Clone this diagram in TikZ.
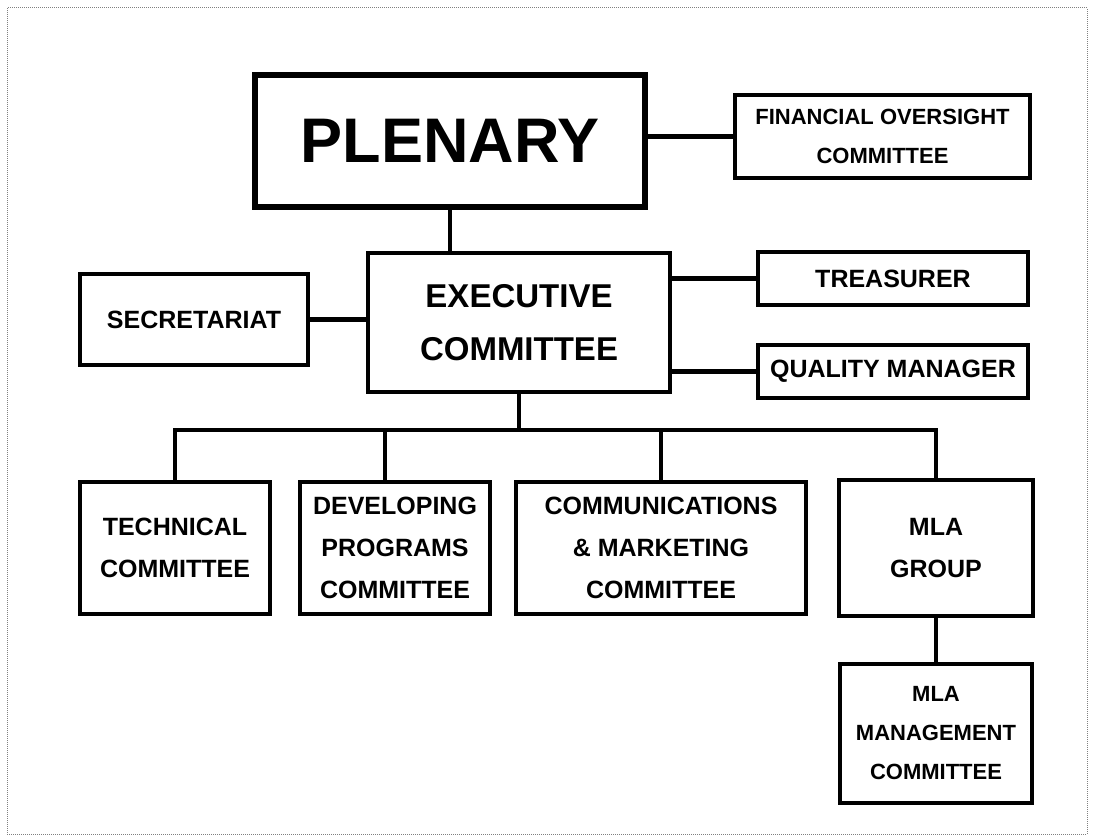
\documentclass[tikz,border=0pt]{standalone}
\usepackage{fontspec}
\setmainfont{Liberation Sans}
\usetikzlibrary{positioning}

\begin{document}
\begin{tikzpicture}[
		x=1pt, y=-1pt,
		line/.style={line width=4.5pt},
		box/.style={draw, line width=4.5pt, outer sep=0pt, align=center, font=\bfseries\fontsize{25}{42}\selectfont},
		smallbox/.style={box, font=\bfseries\fontsize{22}{39}\selectfont},
	]
	\useasboundingbox (0,0) rectangle (1093,840);
	\draw[gray, densely dotted, line width=1pt] (7,8) rectangle (1087,834);

	\node (plenary) [box, line width=6pt, minimum width=390pt, minimum height=132pt, font=\bfseries\fontsize{63}{63}\selectfont] at (450,141) {PLENARY};
	\node (fin) [smallbox, minimum width=295pt, minimum height=83pt, right=90pt of plenary, yshift=4.5pt] {FINANCIAL OVERSIGHT\\COMMITTEE};
	\node (exec) [box, minimum width=302pt, minimum height=139pt, below=46pt of plenary, xshift=69pt, font=\bfseries\fontsize{33}{53}\selectfont] {EXECUTIVE\\COMMITTEE};
	\node (secr) [box, minimum width=228pt, minimum height=91pt, left=60pt of exec, yshift=3pt] {SECRETARIAT};
	\node (treas) [box, minimum width=270pt, minimum height=53pt, right=88pt of exec, yshift=44pt] {TREASURER};
	\node (qm) [box, minimum width=270pt, minimum height=53pt, below=40pt of treas] {QUALITY MANAGER};

	\node (tech) [box, minimum width=190pt, minimum height=132pt, below left=90pt and 98pt of exec] {TECHNICAL\\COMMITTEE};
	\node (dev) [box, minimum width=190pt, minimum height=132pt, right=30pt of tech] {DEVELOPING\\PROGRAMS\\COMMITTEE};
	\node (comm) [box, minimum width=290pt, minimum height=132pt, right=26pt of dev] {COMMUNICATIONS\\\&~MARKETING\\COMMITTEE};
	\node (mla) [box, minimum width=194pt, minimum height=136pt, right=33pt of comm] {MLA\\GROUP};
	\node (mlam) [smallbox, minimum width=192pt, minimum height=139pt, below=48pt of mla] {MLA\\MANAGEMENT\\COMMITTEE};
	\coordinate[below=38pt of exec] (bus);

	\draw[line] (plenary.south) -- (plenary.south |- exec.north);
	\draw[line] (fin.west) -- (fin.west -| plenary.east);
	\draw[line] (secr.east) -- (secr.east -| exec.west);
	\draw[line] (treas.west) -- (treas.west -| exec.east);
	\draw[line] (qm.west) -- (qm.west -| exec.east);
	\draw[line] (exec.south) -- (bus);
	\draw[line] (tech.north) |- (mla.north |- bus) -- (mla.north);
	\draw[line] ([xshift=-10pt]dev.north) -- ([xshift=-10pt]dev.north |- bus);
	\draw[line] (comm.north) -- (comm.north |- bus);
	\draw[line] (mla) -- (mlam);
\end{tikzpicture}
\end{document}
